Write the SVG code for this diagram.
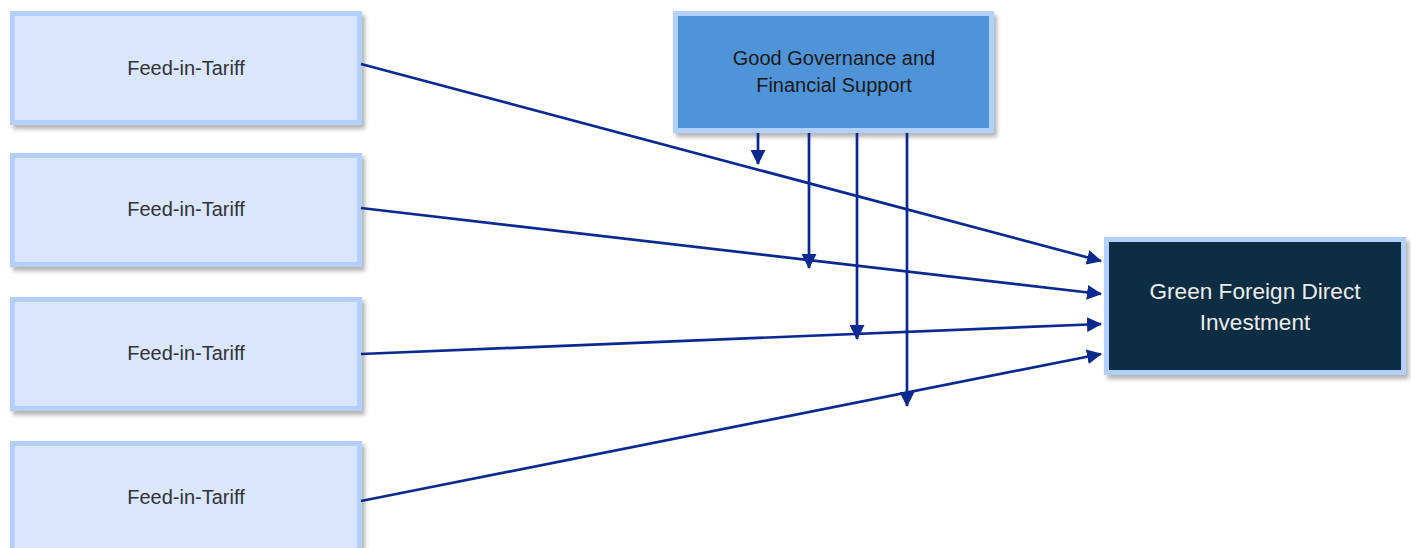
<svg xmlns="http://www.w3.org/2000/svg" width="1411" height="548" viewBox="0 0 1411 548">
<defs>
<filter id="sh" x="-5%" y="-5%" width="115%" height="120%">
<feDropShadow dx="3" dy="4" stdDeviation="2" flood-color="#000" flood-opacity="0.3"/>
</filter>
<marker id="ah" viewBox="0 0 15 15" refX="14" refY="7.5" markerWidth="15" markerHeight="15" markerUnits="userSpaceOnUse" orient="auto">
<path d="M0,0 L15,7.5 L0,15 Z" fill="#0a2a91"/>
</marker>
</defs>
<style>
.fit rect{fill:#d9e6fd;stroke:#b2d0fb;stroke-width:5}
.t{font-family:"Liberation Sans",Arial,sans-serif;text-anchor:middle}
.fit text{font-size:20px;fill:#333}
#connectors line{stroke:#0a2a91;stroke-width:2.7;marker-end:url(#ah)}
</style>
<g id="fit1" class="fit"><rect x="12.5" y="13.5" width="347" height="109" filter="url(#sh)"/><text class="t" x="186" y="75">Feed-in-Tariff</text></g>
<g id="fit2" class="fit"><rect x="12.5" y="155.5" width="347" height="109" filter="url(#sh)"/><text class="t" x="186" y="216">Feed-in-Tariff</text></g>
<g id="fit3" class="fit"><rect x="12.5" y="299.5" width="347" height="109" filter="url(#sh)"/><text class="t" x="186" y="360">Feed-in-Tariff</text></g>
<g id="fit4" class="fit"><rect x="12.5" y="443.5" width="347" height="109" filter="url(#sh)"/><text class="t" x="186" y="504">Feed-in-Tariff</text></g>
<g id="ggfs"><rect x="675.5" y="13.5" width="316" height="117" fill="#4f94d8" stroke="#b2d0fb" stroke-width="5" filter="url(#sh)"/><text class="t" x="834" y="65" font-size="20" fill="#1a1a1a">Good Governance and</text><text class="t" x="834" y="92" font-size="20" fill="#1a1a1a">Financial Support</text></g>
<g id="gfdi"><rect x="1106.5" y="239.5" width="297" height="133" fill="#0c2f42" stroke="#b2d0fb" stroke-width="5" filter="url(#sh)"/><text class="t" x="1255" y="299" font-size="22.6" fill="#ececec">Green Foreign Direct</text><text class="t" x="1255" y="330" font-size="22.6" fill="#ececec">Investment</text></g>
<g id="connectors">
<line x1="361" y1="64" x2="1101" y2="261"/>
<line x1="361" y1="208" x2="1101" y2="294"/>
<line x1="361" y1="354" x2="1101" y2="324"/>
<line x1="361" y1="501" x2="1101" y2="354"/>
<line x1="758" y1="133" x2="758" y2="164"/>
<line x1="809" y1="133" x2="809" y2="268"/>
<line x1="857" y1="133" x2="857" y2="339"/>
<line x1="907" y1="133" x2="907" y2="406"/>
</g>
</svg>
